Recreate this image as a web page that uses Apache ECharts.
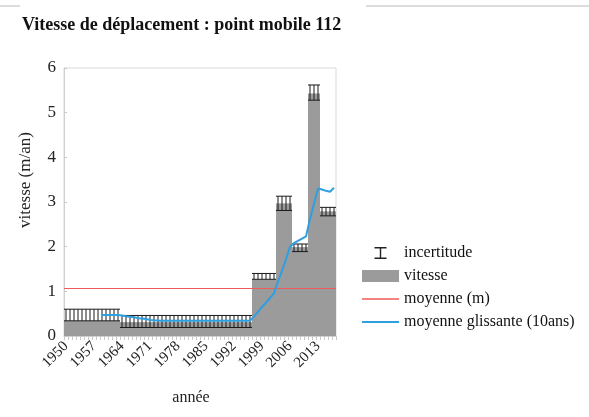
<!DOCTYPE html>
<html>
<head>
<meta charset="utf-8">
<script src="https://cdn.jsdelivr.net/npm/echarts@6/dist/echarts.min.js"></script>
<style>
	html, body {margin: 0; padding: 0; background: #fff;}
	#chart {width: 589px; height: 417px;}
</style>
</head>
<body>
<div id="chart"></div>
<script>
	// periodes [debut, fin] de chaque palier de vitesse
	var periodes = [[1950, 1963], [1964, 1996], [1997, 2002], [2003, 2006], [2007, 2010], [2011, 2013], [2014, 2017]];
	var vitesse = [0.34, 0.31, 1.27, 2.97, 1.99, 5.43, 2.79];
	var incertBas = [0.34, 0.19, 1.27, 2.81, 1.89, 5.28, 2.69];
	var incertHaut = [0.60, 0.46, 1.40, 3.13, 2.06, 5.62, 2.88];
	var moyenne = 1.07;
	// moyenne glissante sur 10 ans, une valeur par annee (1950 -> 2017)
	var glissante = [
		null, null, null, null, null, null, null, null, null,
		0.47, 0.47, 0.47, 0.47, 0.47,
		0.46, 0.44, 0.43, 0.42, 0.40, 0.39, 0.38, 0.36, 0.35,
		0.34, 0.34, 0.34, 0.34, 0.34, 0.34, 0.34, 0.34, 0.34, 0.34, 0.34, 0.34,
		0.34, 0.34, 0.34, 0.34, 0.34, 0.34, 0.34, 0.34, 0.34, 0.34, 0.34, 0.34,
		0.44, 0.54, 0.65, 0.75, 0.85, 0.96,
		1.22, 1.46, 1.72, 2.00,
		2.08, 2.13, 2.18, 2.23,
		2.62, 2.96, 3.30,
		3.28, 3.25, 3.23, 3.32
	];

	var serif = '"Liberation Serif", "DejaVu Serif", serif';

	var annees = [], barres = [], erreurs = [];
	periodes.forEach(function(p, k){
		for(var a = p[0]; a <= p[1]; a++){
			annees.push(String(a));
			barres.push(vitesse[k]);
			erreurs.push([annees.length - 1, incertBas[k], incertHaut[k]]);
		}
	});

	var chart = echarts.init(document.getElementById('chart'));
	chart.setOption({
		animation: false,
		title: {
			text: 'Vitesse de déplacement : point mobile 112',
			left: 17, top: 11,
			textStyle: {fontFamily: serif, fontWeight: 'bold', fontSize: 18, color: '#111'}
		},
		grid: {left: 64, right: 253, top: 68, bottom: 81, show: true, borderColor: '#d9d9d9', borderWidth: 1},
		legend: {
			orient: 'vertical', left: 357, top: 240,
			itemWidth: 37, itemHeight: 12, itemGap: 7,
			textStyle: {fontFamily: serif, fontSize: 16, color: '#111'},
			data: [
				{name: 'incertitude', icon: 'path://M0,0H12V1.4H6.7V10.6H12V12H0V10.6H5.3V1.4H0Z'},
				{name: 'vitesse', icon: 'rect'},
				{name: 'moyenne (m)', icon: 'path://M0,0H37V1.4H0Z'},
				{name: 'moyenne glissante (10ans)', icon: 'path://M0,0H37V2.2H0Z'}
			]
		},
		xAxis: {
			type: 'category',
			data: annees,
			axisLine: {lineStyle: {color: '#d0d0d0'}},
			axisTick: {show: true, interval: 0, length: 4, lineStyle: {color: '#c8c8c8'}},
			axisLabel: {interval: 6, rotate: 45, margin: 8, fontFamily: serif, fontSize: 15, color: '#222'}
		},
		yAxis: {
			type: 'value', min: 0, max: 6, interval: 1,
			splitLine: {show: false},
			axisLine: {show: true, lineStyle: {color: '#d0d0d0'}},
			axisTick: {show: true, inside: true, length: 3, lineStyle: {color: '#c8c8c8'}},
			axisLabel: {margin: 8, fontFamily: serif, fontSize: 17, color: '#222'}
		},
		graphic: [
			{type: 'line', shape: {x1: 0, y1: 6, x2: 20, y2: 6}, style: {stroke: '#dcdcdc', lineWidth: 2}},
			{type: 'line', shape: {x1: 366, y1: 6, x2: 589, y2: 6}, style: {stroke: '#dcdcdc', lineWidth: 2}},
			{type: 'text', x: 26, y: 180, rotation: Math.PI / 2,
				style: {text: 'vitesse (m/an)', font: '17px ' + serif, fill: '#222', textAlign: 'center', textVerticalAlign: 'middle'}},
			{type: 'text', x: 191, y: 398,
				style: {text: 'année', font: '16px ' + serif, fill: '#222', textAlign: 'center', textVerticalAlign: 'middle'}}
		],
		series: [
			{
				name: 'vitesse', type: 'bar', data: barres,
				barCategoryGap: '0%',
				itemStyle: {color: '#9b9b9b'},
				z: 1
			},
			{
				name: 'incertitude', type: 'custom', data: erreurs,
				encode: {x: 0, y: [1, 2]},
				itemStyle: {color: '#222'},
				z: 3,
				renderItem: function(params, api){
					var bas = api.coord([api.value(0), api.value(1)]);
					var haut = api.coord([api.value(0), api.value(2)]);
					var w = api.size([1, 0])[0] / 2;
					var st = {stroke: '#1a1a1a', lineWidth: 1};
					return {
						type: 'group',
						children: [
							{type: 'line', shape: {x1: haut[0], y1: haut[1], x2: bas[0], y2: bas[1]}, style: st},
							{type: 'line', shape: {x1: haut[0] - w, y1: haut[1], x2: haut[0] + w, y2: haut[1]}, style: st},
							{type: 'line', shape: {x1: bas[0] - w, y1: bas[1], x2: bas[0] + w, y2: bas[1]}, style: st}
						]
					};
				}
			},
			{
				name: 'moyenne (m)', type: 'line', data: [],
				symbol: 'none',
				lineStyle: {color: '#f05a5a', width: 1},
				itemStyle: {color: '#f05a5a'},
				z: 4,
				markLine: {
					silent: true, symbol: 'none',
					label: {show: false},
					lineStyle: {color: '#f05a5a', width: 1, type: 'solid'},
					data: [{yAxis: moyenne}]
				}
			},
			{
				name: 'moyenne glissante (10ans)', type: 'line', data: glissante,
				symbol: 'none',
				lineStyle: {color: '#2e9fe0', width: 2},
				itemStyle: {color: '#2e9fe0'},
				z: 5
			}
		]
	});
</script>
</body>
</html>
